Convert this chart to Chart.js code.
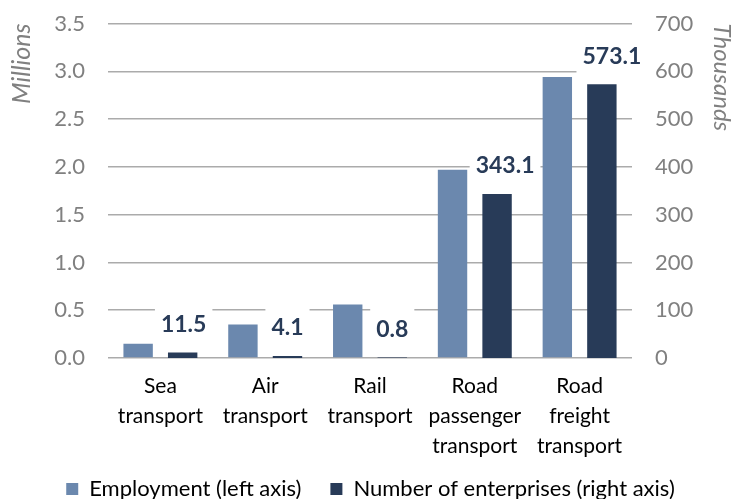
<!DOCTYPE html>
<html>
<head>
<meta charset="utf-8">
<script src="https://cdn.jsdelivr.net/npm/chart.js@4/dist/chart.umd.min.js"></script>
<style>
  html, body { margin: 0; padding: 0; background: #ffffff; }
  #wrap { width: 741px; height: 499px; position: relative; }
</style>
</head>
<body>
<div id="wrap"><canvas id="c" width="741" height="499"></canvas></div>
<script>
const categories = [
  ['Sea', 'transport'],
  ['Air', 'transport'],
  ['Rail', 'transport'],
  ['Road', 'passenger', 'transport'],
  ['Road', 'freight', 'transport']
];
const employmentMillions = [0.15, 0.35, 0.56, 1.97, 2.94];
const enterprisesThousands = [11.5, 4.1, 0.8, 343.1, 573.1];
const seriesNames = ['Employment (left axis)', 'Number of enterprises (right axis)'];
const leftTitle = 'Millions';
const rightTitle = 'Thousands';

const FONT = 'Lato';
const GRAY = '#808080';
const LIGHT = '#6b88ae';
const DARK = '#283b58';
const PAD_BOTTOM = -11;

// label style: horizontal nudges of the value labels (as placed in the original)
const LABEL_SHIFT_X = [1, 0, 0, 8, 10];

const valueLabels = {
  id: 'valueLabels',
  afterDatasetsDraw(chart) {
    const ctx = chart.ctx;
    const meta = chart.getDatasetMeta(1);
    const data = chart.data.datasets[1].data;
    ctx.save();
    ctx.font = 'bold 23px ' + FONT;
    ctx.textAlign = 'center';
    ctx.textBaseline = 'middle';
    meta.data.forEach((bar, i) => {
      const txt = data[i].toFixed(1);
      const cx = bar.x + (LABEL_SHIFT_X[i] || 0);
      const cy = bar.y - 28;
      const w = ctx.measureText(txt).width;
      ctx.fillStyle = '#ffffff';
      ctx.fillRect(cx - w / 2 - 6, cy - 21, w + 12, 42);
      ctx.fillStyle = DARK;
      ctx.fillText(txt, cx, cy);
    });
    ctx.restore();
  }
};

new Chart(document.getElementById('c'), {
  type: 'bar',
  data: {
    labels: categories,
    datasets: [
      {
        label: seriesNames[0],
        data: employmentMillions,
        backgroundColor: LIGHT,
        yAxisID: 'y',
        categoryPercentage: 0.85,
        barPercentage: 0.66
      },
      {
        label: seriesNames[1],
        data: enterprisesThousands,
        backgroundColor: DARK,
        yAxisID: 'y1',
        categoryPercentage: 0.85,
        barPercentage: 0.66
      }
    ]
  },
  options: {
    responsive: false,
    devicePixelRatio: 1,
    animation: false,
    layout: { padding: { top: 8, left: 0, right: 0, bottom: PAD_BOTTOM } },
    plugins: {
      legend: {
        position: 'bottom',
        labels: {
          boxWidth: 12,
          boxHeight: 12,
          padding: 29,
          color: '#000000',
          font: { family: FONT, size: 22 }
        }
      },
      tooltip: { enabled: false }
    },
    scales: {
      x: {
        grid: { display: false, drawTicks: false },
        border: { display: false },
        ticks: {
          color: '#000000',
          mirror: true,
          padding: -43,
          maxRotation: 0,
          autoSkip: false,
          font: { family: FONT, size: 21, lineHeight: '30px' }
        },
        afterFit(scale) { scale.height = 91; }
      },
      y: {
        position: 'left',
        min: 0,
        max: 3.5,
        grid: { color: '#ababab', lineWidth: 1.5, drawTicks: false },
        border: { display: false },
        ticks: {
          stepSize: 0.5,
          color: GRAY,
          padding: 23,
          font: { family: FONT, size: 22, lineHeight: '1px' },
          callback: (v) => Number(v).toFixed(1)
        },
        title: {
          display: true,
          text: leftTitle,
          align: 'end',
          color: GRAY,
          padding: { top: 7, bottom: 0 },
          font: { family: FONT, size: 25, style: 'italic' }
        },
        afterFit(scale) { scale.width = 108; }
      },
      y1: {
        position: 'right',
        min: 0,
        max: 700,
        grid: { display: false, drawTicks: false },
        border: { display: false },
        ticks: {
          stepSize: 100,
          color: GRAY,
          padding: 23,
          font: { family: FONT, size: 22, lineHeight: '1px' }
        },
        title: {
          display: true,
          text: rightTitle,
          align: 'end',
          color: GRAY,
          padding: { top: 5, bottom: 0 },
          font: { family: FONT, size: 24, style: 'italic' }
        },
        afterFit(scale) { scale.width = 109; }
      }
    }
  },
  plugins: [valueLabels]
});
</script>
</body>
</html>
